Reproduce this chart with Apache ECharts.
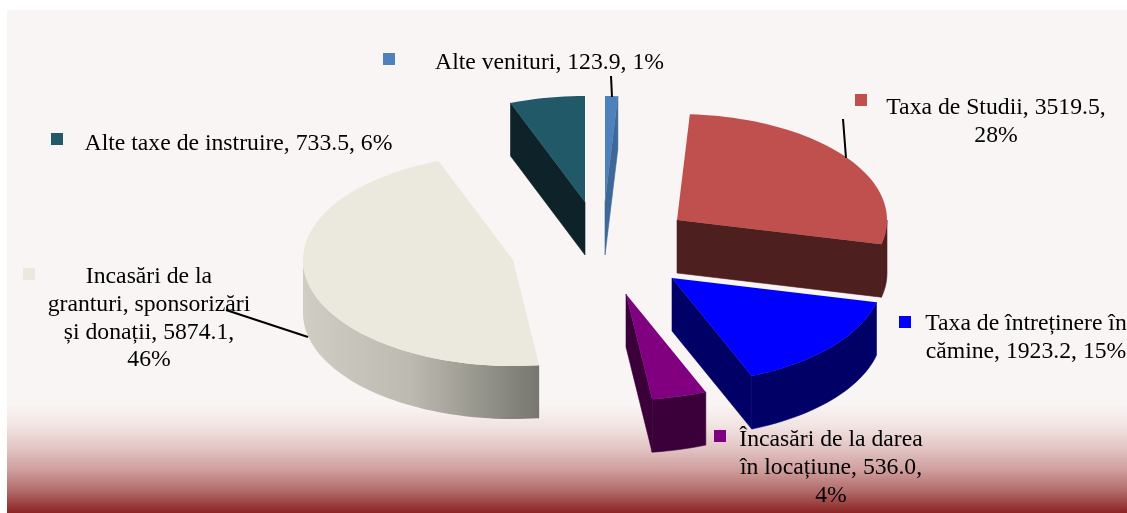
<!DOCTYPE html>
<html>
<head>
<meta charset="utf-8">
<style>
html, body { margin: 0; padding: 0; background: #fff; }
#chart { width: 1127px; height: 513px; }
</style>
<script src="https://cdn.jsdelivr.net/npm/echarts@6/dist/echarts.min.js"></script>
</head>
<body>
<div id="chart"></div>
<script>
var categories = ['Alte venituri', 'Taxa de Studii', 'Taxa de întreținere în cămine', 'Încasări de la darea în locațiune', 'Incasări de la granturi, sponsorizări și donații', 'Alte taxe de instruire'];
var values = [123.9, 3519.5, 1923.2, 536.0, 5874.1, 733.5];
var percents = [1, 28, 15, 4, 46, 6];

var labelLines = [
    ['Alte venituri, 123.9, 1%'],
    ['Taxa de Studii, 3519.5,', '28%'],
    ['Taxa de întreținere în', 'cămine, 1923.2, 15%'],
    ['Încasări de la darea', 'în locațiune, 536.0,', '4%'],
    ['Incasări de la', 'granturi, sponsorizări', 'și donații, 5874.1,', '46%'],
    ['Alte taxe de instruire, 733.5, 6%']
];

var topColors = ['#4f81bd', '#c0504d', '#0000ff', '#800080', '#ebe9dd', '#215968'];
var sideColors = ['#3d6899', '#4d1f1f', '#000066', '#3b0039', null, '#0e2329'];

// where the tip of each exploded slice sits on the page
var apexX = [605, 677, 672, 626, 513, 585];
var apexY = [202, 220, 278, 294, 260, 202];
var drawOrder = [1, 2, 3, 5, 4, 6];

var labelX = [549.5, 996, 1026, 831, 149, 238.5];
var labelY = [63, 108, 324, 440, 277, 144];
var markerX = [383, 855, 899, 714, 23, 51];
var markerY = [53, 94, 316, 430, 268, 133];
var leaders = [
    [[611, 76], [612, 97]],
    [[843, 119], [846, 158]],
    null,
    null,
    [[226, 310], [308, 337]],
    null
];

var rx = 210, ry = 106, depth = 53;
var total = values.reduce(function (a, b) { return a + b; }, 0);
var font = '23.7px "Liberation Serif"';

function arc(ax, ay, from, to, dy) {
    var pts = [];
    var n = Math.max(2, Math.ceil((to - from) / 2));
    for (var i = 0; i <= n; i++) {
        var t = (from + (to - from) * i / n) * Math.PI / 180;
        pts.push([ax + rx * Math.sin(t), ay - ry * Math.cos(t) + dy]);
    }
    return pts;
}

function cutFace(ax, ay, deg, fill, z) {
    var p = arc(ax, ay, deg, deg, 0)[0];
    return {
        type: 'polygon',
        z2: z,
        shape: { points: [[ax, ay], p, [p[0], p[1] + depth], [ax, ay + depth]] },
        style: { fill: fill, stroke: fill, lineWidth: 0.6 }
    };
}

function renderSlice(params, api) {
    var i = params.dataIndex;
    var before = 0;
    for (var k = 0; k < i; k++) before += values[k];
    var start = before / total * 360;
    var end = (before + api.value(0)) / total * 360;
    var ax = apexX[i], ay = apexY[i];
    var z = drawOrder[i] * 10;
    var side = sideColors[i];
    var children = [];

    // cut faces, only the ones turned towards the viewer
    if (Math.sin(start * Math.PI / 180) < -0.001) children.push(cutFace(ax, ay, start, side, z));
    if (Math.sin(end * Math.PI / 180) > 0.001) children.push(cutFace(ax, ay, end, side, z));

    // outer wall, front half of the ellipse
    var from = Math.max(start, 90), to = Math.min(end, 270);
    if (to > from) {
        var wall = side || {
            type: 'linear', x: 0, y: 0, x2: 1, y2: 0,
            colorStops: [
                { offset: 0, color: '#d0cec4' },
                { offset: 0.45, color: '#bdbbb1' },
                { offset: 1, color: '#77766f' }
            ]
        };
        children.push({
            type: 'polygon',
            z2: z + 1,
            shape: { points: arc(ax, ay, from, to, 0).concat(arc(ax, ay, from, to, depth).reverse()) },
            style: { fill: wall, stroke: side || null, lineWidth: 0.6 }
        });
    }

    children.push({
        type: 'polygon',
        z2: z + 2,
        shape: { points: [[ax, ay]].concat(arc(ax, ay, start, end, 0)) },
        style: { fill: topColors[i] }
    });

    children.push({
        type: 'rect',
        z2: 100,
        shape: { x: markerX[i], y: markerY[i], width: 12, height: 12 },
        style: { fill: topColors[i] }
    });
    labelLines[i].forEach(function (line, n) {
        children.push({
            type: 'text',
            z2: 100,
            style: {
                text: line,
                x: labelX[i],
                y: labelY[i] + n * 27.7,
                font: font,
                fill: '#000',
                align: 'center',
                verticalAlign: 'middle'
            }
        });
    });
    if (leaders[i]) {
        children.push({
            type: 'line',
            z2: 101,
            shape: { x1: leaders[i][0][0], y1: leaders[i][0][1], x2: leaders[i][1][0], y2: leaders[i][1][1] },
            style: { stroke: '#000', lineWidth: 2 }
        });
    }
    return { type: 'group', children: children };
}

var myChart = echarts.init(document.getElementById('chart'));
var option = {
    animation: false,
    graphic: [{
        type: 'rect',
        silent: true,
        shape: { x: 7, y: 10, width: 1120, height: 503 },
        style: {
            fill: {
                type: 'linear', x: 0, y: 0, x2: 0, y2: 1,
                colorStops: [
                    { offset: 0, color: '#f9f5f4' },
                    { offset: 0.785, color: '#f9f5f4' },
                    { offset: 0.828, color: '#f1e3e2' },
                    { offset: 0.871, color: '#e2c5c4' },
                    { offset: 0.914, color: '#cf9f9e' },
                    { offset: 0.957, color: '#b06a69' },
                    { offset: 1, color: '#8b2323' }
                ]
            }
        }
    }],
    series: [{
        type: 'custom',
        coordinateSystem: 'none',
        silent: true,
        data: values.map(function (v, i) { return { name: categories[i], value: [v, percents[i]] }; }),
        renderItem: renderSlice
    }]
};
myChart.setOption(option);
</script>
</body>
</html>
